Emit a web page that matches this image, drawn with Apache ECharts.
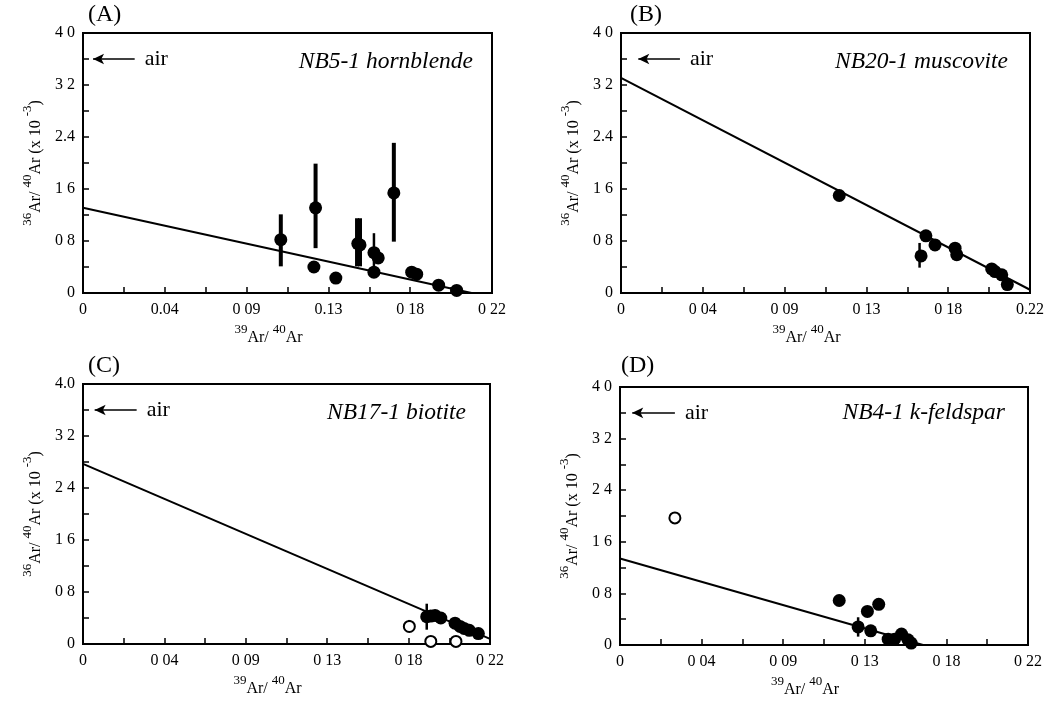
<!DOCTYPE html>
<html>
<head>
<meta charset="utf-8">
<script src="https://cdn.jsdelivr.net/npm/echarts@6/dist/echarts.min.js"></script>
<style>
  html, body { margin: 0; padding: 0; background: #fff; }
  #chart { width: 1057px; height: 706px; }
</style>
</head>
<body>
<div id="chart"></div>
<script>
// ---- Tick labels (as printed on each panel) ----
const xTicksA = ['0', '0.04', '0 09', '0.13', '0 18', '0 22'];
const xTicksB = ['0', '0 04', '0 09', '0 13', '0 18', '0.22'];
const xTicksC = ['0', '0 04', '0 09', '0 13', '0 18', '0 22'];
const xTicksD = ['0', '0 04', '0 09', '0 13', '0 18', '0 22'];
const yTicksA = ['0', '0 8', '1 6', '2.4', '3 2', '4 0'];
const yTicksB = ['0', '0 8', '1 6', '2.4', '3 2', '4 0'];
const yTicksC = ['0', '0 8', '1 6', '2 4', '3 2', '4.0'];
const yTicksD = ['0', '0 8', '1 6', '2 4', '3 2', '4 0'];

const panelLetters = ['(A)', '(B)', '(C)', '(D)'];
const sampleNames = ['NB5-1 hornblende', 'NB20-1 muscovite', 'NB17-1 biotite', 'NB4-1 k-feldspar'];

// ---- (A) NB5-1 hornblende: [39Ar/40Ar, 36Ar/40Ar x1e-3] ----
const aFilled = [
  [0.1064, 0.82], [0.1251, 1.31], [0.1242, 0.40], [0.1360, 0.23],
  [0.1478, 0.76], [0.1490, 0.74], [0.1565, 0.62], [0.1588, 0.54],
  [0.1565, 0.32], [0.1672, 1.54], [0.1768, 0.32], [0.1795, 0.29],
  [0.1913, 0.12], [0.2010, 0.04]
];
// error bars: [x, low, high]
const aErrWide = [
  [0.1064, 0.41, 1.21], [0.1251, 0.69, 1.99], [0.1474, 0.41, 1.15],
  [0.1490, 0.41, 1.15], [0.1672, 0.79, 2.31]
];
const aErrThin = [[0.1565, 0.31, 0.92]];
const aFit = [[0, 1.31], [0.209, 0]];
const aAir = [[0.0054, 3.6], [0.0278, 3.6]];

// ---- (B) NB20-1 muscovite ----
const bFilled = [
  [0.1174, 1.50], [0.1640, 0.88], [0.1614, 0.57], [0.1689, 0.74],
  [0.1797, 0.69], [0.1806, 0.59], [0.1994, 0.37], [0.2012, 0.33],
  [0.2048, 0.28], [0.2078, 0.13]
];
const bErr = [[0.1174, 1.43, 1.57], [0.1606, 0.39, 0.77]];
const bFit = [[0, 3.31], [0.22, 0.05]];
const bAir = [[0.0093, 3.6], [0.0317, 3.6]];

// ---- (C) NB17-1 biotite ----
const cFilled = [
  [0.1858, 0.42], [0.1880, 0.43], [0.1903, 0.44], [0.1934, 0.40],
  [0.2011, 0.32], [0.2038, 0.27], [0.2060, 0.24], [0.2088, 0.21],
  [0.2137, 0.16]
];
const cOpen = [[0.1764, 0.27], [0.1880, 0.04], [0.2016, 0.04]];
const cErr = [[0.1858, 0.22, 0.62], [0.1764, 0.20, 0.37]];
const cFit = [[0, 2.77], [0.22, 0.08]];
const cAir = [[0.0063, 3.6], [0.0290, 3.6]];

// ---- (D) NB4-1 k-feldspar ----
const dFilled = [
  [0.1182, 0.69], [0.1395, 0.63], [0.1334, 0.52], [0.1284, 0.28],
  [0.1352, 0.22], [0.1446, 0.09], [0.1480, 0.09], [0.1518, 0.17],
  [0.1553, 0.08], [0.1570, 0.03]
];
const dOpen = [[0.0296, 1.97]];
const dErr = [[0.1284, 0.13, 0.43]];
const dFit = [[0, 1.34], [0.1634, 0]];
const dAir = [[0.0066, 3.6], [0.0296, 3.6]];

const FONT = '"Liberation Serif", "Times New Roman", serif';

const grids = [
  { left: 83, top: 33, width: 409, height: 260 },
  { left: 621, top: 33, width: 409, height: 260 },
  { left: 83, top: 384, width: 407, height: 260 },
  { left: 620, top: 387, width: 408, height: 258 }
];

// superscript mass numbers, lowered element symbols
const subSupRich = {
  sup: { fontSize: 13, verticalAlign: 'top', fontFamily: FONT, color: '#000' },
  base: { fontSize: 16, verticalAlign: 'bottom', padding: [7, 0, 0, 0], fontFamily: FONT, color: '#000' }
};

function xAxisFor(idx, labels) {
  return {
    type: 'value', gridIndex: idx, min: 0, max: 0.22, interval: 0.044,
    name: '{sup|39}{base|Ar/ }{sup|40}{base|Ar}',
    nameLocation: 'middle', nameGap: 30,
    nameTextStyle: { rich: subSupRich, padding: [0, 38, 0, 0] },
    axisLine: { show: true, lineStyle: { color: '#000', width: 2 } },
    axisTick: { show: true, inside: true, length: 6, lineStyle: { color: '#000', width: 1.5 } },
    minorTick: { show: true, splitNumber: 2, length: 6, lineStyle: { color: '#000', width: 1.5 } },
    splitLine: { show: false },
    axisLabel: {
      color: '#000', fontFamily: FONT, fontSize: 16, margin: 9,
      formatter: v => labels[Math.round(v / 0.044)]
    }
  };
}

function yAxisFor(idx, labels) {
  return {
    type: 'value', gridIndex: idx, min: 0, max: 4, interval: 0.8,
    name: '{sup|36}{base|Ar/ }{sup|40}{base|Ar (x 10 }{sup|-3}{base|)}',
    nameLocation: 'middle', nameGap: 39, nameRotate: 90,
    nameTextStyle: { rich: subSupRich },
    axisLine: { show: true, lineStyle: { color: '#000', width: 2 } },
    axisTick: { show: true, inside: true, length: 6, lineStyle: { color: '#000', width: 1.5 } },
    minorTick: { show: true, splitNumber: 2, length: 6, lineStyle: { color: '#000', width: 1.5 } },
    splitLine: { show: false },
    axisLabel: {
      color: '#000', fontFamily: FONT, fontSize: 16, margin: 8,
      formatter: v => labels[Math.round(v / 0.8)]
    }
  };
}

function errSeries(idx, data, width) {
  return {
    type: 'custom', xAxisIndex: idx, yAxisIndex: idx, z: 2, silent: true,
    encode: { x: 0, y: [1, 2] },
    data: data,
    renderItem: (params, api) => {
      const x = api.value(0);
      const p1 = api.coord([x, api.value(1)]);
      const p2 = api.coord([x, api.value(2)]);
      return {
        type: 'line',
        shape: { x1: p1[0], y1: p1[1], x2: p2[0], y2: p2[1] },
        style: { stroke: '#000', lineWidth: width }
      };
    }
  };
}

function fitSeries(idx, fit, air) {
  return {
    type: 'line', xAxisIndex: idx, yAxisIndex: idx, z: 1, silent: true,
    data: fit, showSymbol: false, symbol: 'none',
    lineStyle: { color: '#000', width: 2 },
    markLine: {
      silent: true, symbol: ['arrow', 'none'], symbolSize: [8, 11],
      lineStyle: { color: '#000', width: 1.5, type: 'solid' },
      label: {
        show: true, position: 'end', formatter: 'air', distance: 10,
        color: '#000', fontFamily: FONT, fontSize: 22
      },
      data: [[{ coord: air[0] }, { coord: air[1] }]]
    }
  };
}

function dotSeries(idx, data) {
  return {
    type: 'scatter', xAxisIndex: idx, yAxisIndex: idx, z: 3,
    data: data, symbol: 'circle', symbolSize: 13,
    itemStyle: { color: '#000', opacity: 1 }
  };
}

function openSeries(idx, data) {
  return {
    type: 'scatter', xAxisIndex: idx, yAxisIndex: idx, z: 4,
    data: data, symbol: 'circle', symbolSize: 11,
    itemStyle: { color: '#fff', borderColor: '#000', borderWidth: 2, opacity: 1 }
  };
}

const letterPos = [[88, 3], [630, 3], [88, 354], [621, 354]];
const namePos = [[584, 50], [49, 50], [591, 401], [52, 401]];

const titles = [];
panelLetters.forEach((t, i) => titles.push({
  text: t, left: letterPos[i][0], top: letterPos[i][1], padding: 0,
  textStyle: { fontFamily: FONT, fontSize: 24, fontWeight: 'normal', color: '#000' }
}));
sampleNames.forEach((t, i) => titles.push({
  text: t, right: namePos[i][0], top: namePos[i][1], padding: 0,
  textStyle: { fontFamily: FONT, fontSize: 23.5, fontWeight: 'normal', fontStyle: 'italic', color: '#000' }
}));

const option = {
  animation: false,
  backgroundColor: '#fff',
  title: titles,
  grid: grids.map(g => Object.assign({ show: true, borderColor: '#000', borderWidth: 2, backgroundColor: 'transparent' }, g)),
  xAxis: [xAxisFor(0, xTicksA), xAxisFor(1, xTicksB), xAxisFor(2, xTicksC), xAxisFor(3, xTicksD)],
  yAxis: [yAxisFor(0, yTicksA), yAxisFor(1, yTicksB), yAxisFor(2, yTicksC), yAxisFor(3, yTicksD)],
  series: [
    fitSeries(0, aFit, aAir), errSeries(0, aErrWide, 4), errSeries(0, aErrThin, 2.5), dotSeries(0, aFilled),
    fitSeries(1, bFit, bAir), errSeries(1, bErr, 2.5), dotSeries(1, bFilled),
    fitSeries(2, cFit, cAir), errSeries(2, cErr, 2.5), dotSeries(2, cFilled), openSeries(2, cOpen),
    fitSeries(3, dFit, dAir), errSeries(3, dErr, 2.5), dotSeries(3, dFilled), openSeries(3, dOpen)
  ]
};

const chart = echarts.init(document.getElementById('chart'), null, { renderer: 'canvas' });
chart.setOption(option);
</script>
</body>
</html>
